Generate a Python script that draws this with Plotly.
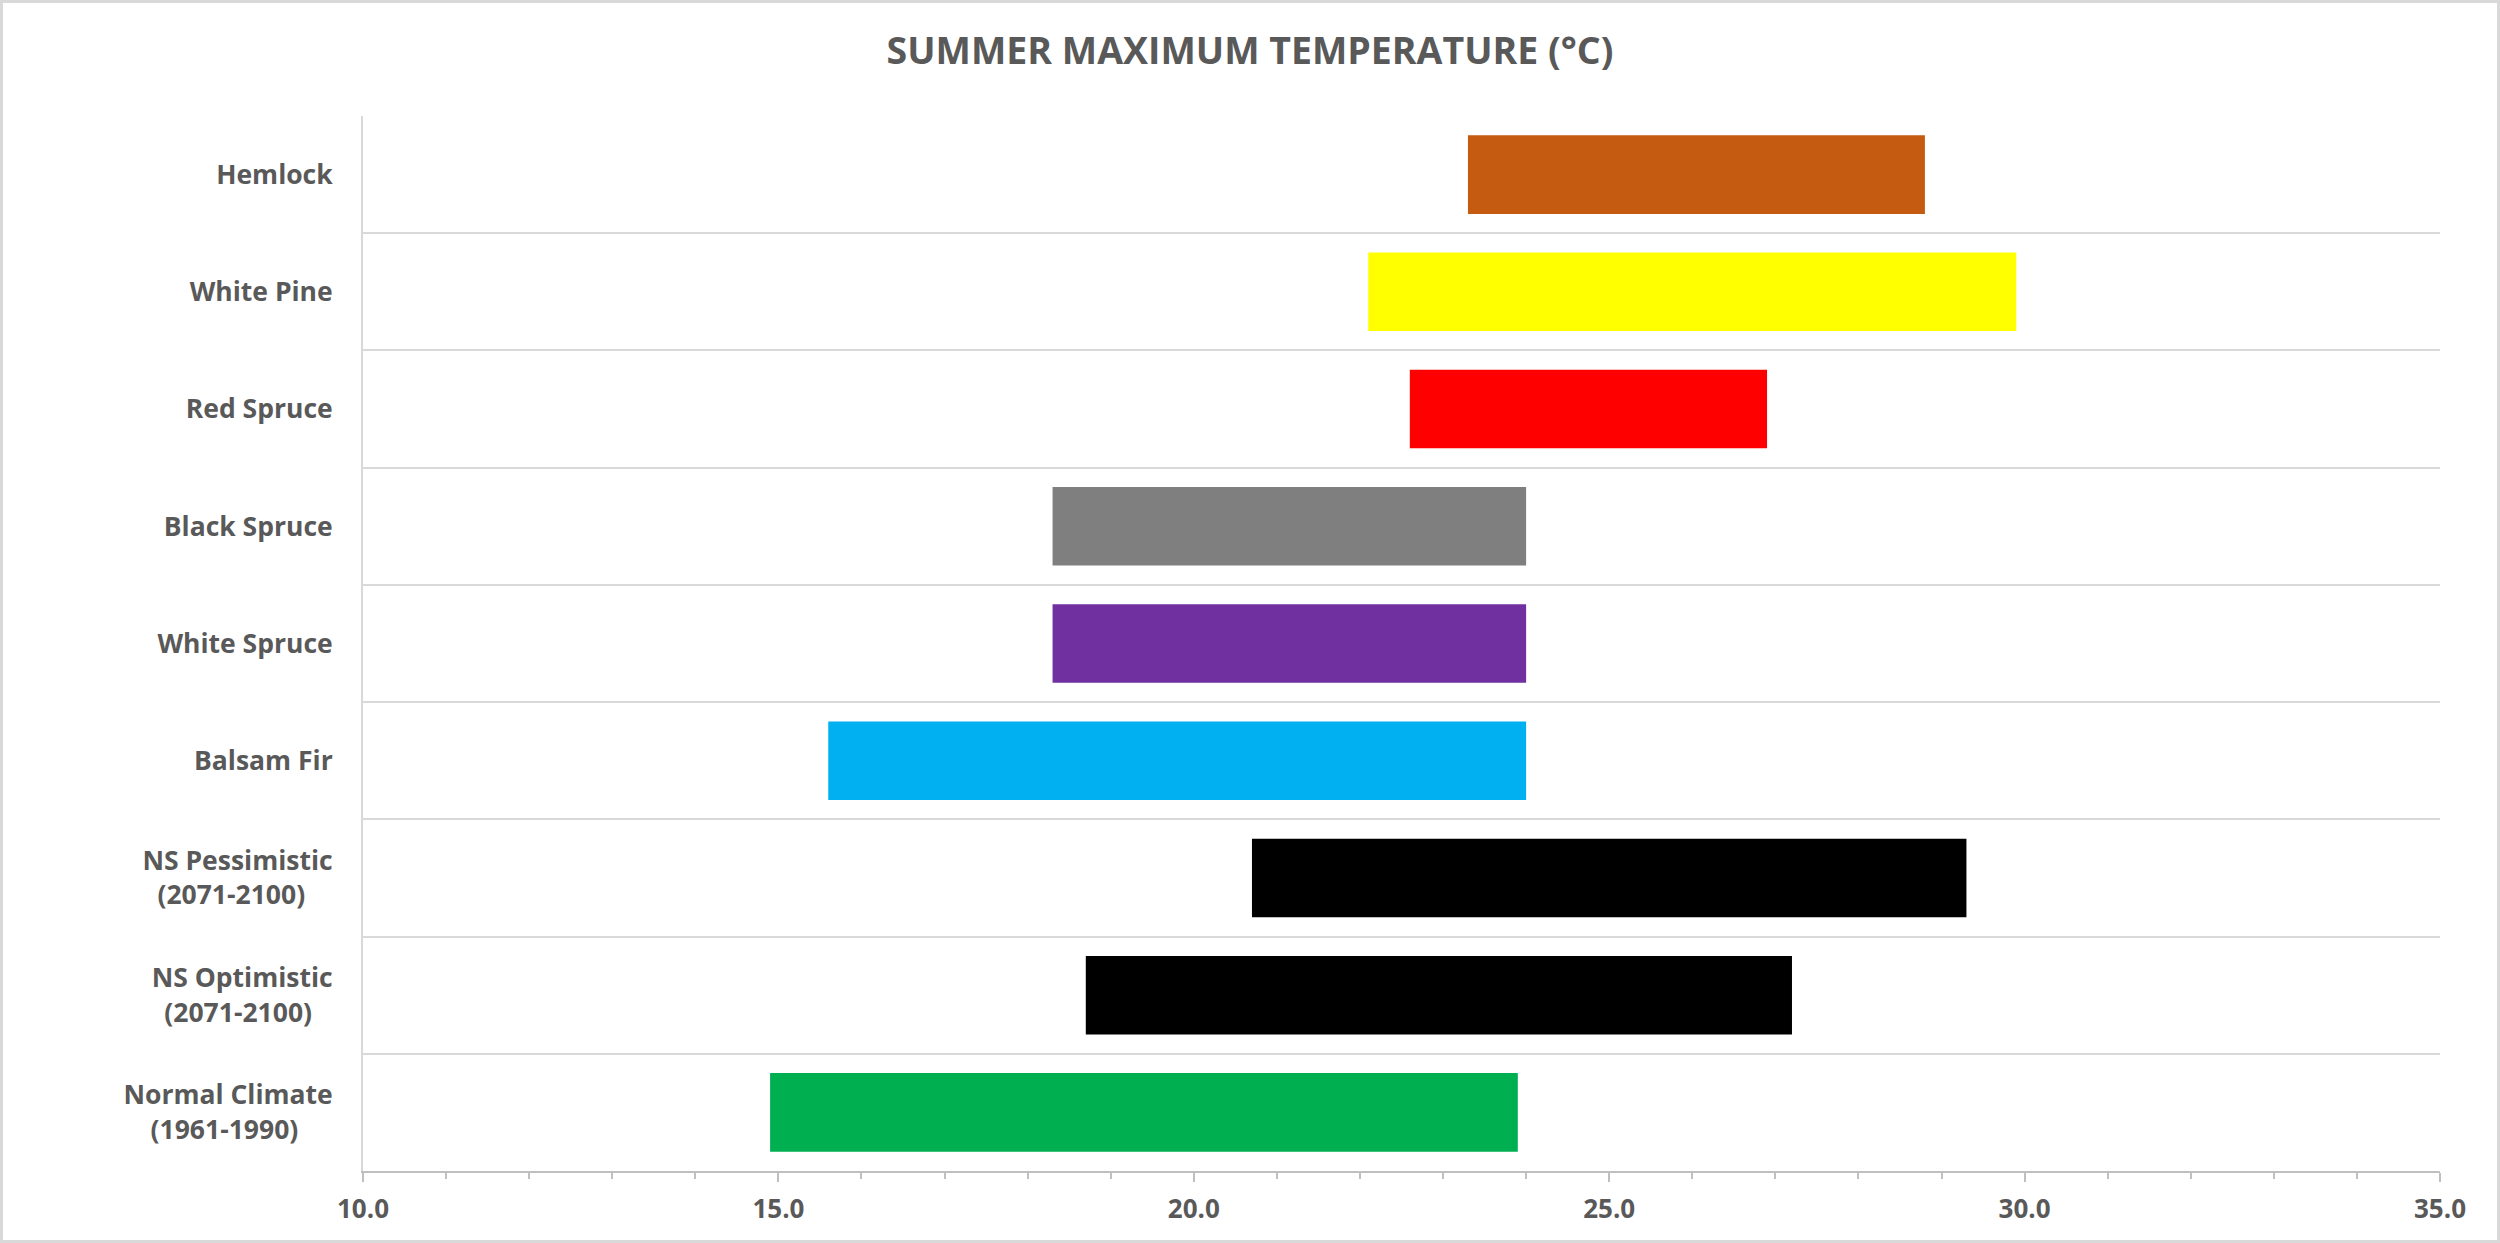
import plotly.graph_objects as go

# ---- data (top-to-bottom order as in the chart) ----
categories = [
    "Hemlock",
    "White Pine",
    "Red Spruce",
    "Black Spruce",
    "White Spruce",
    "Balsam Fir",
    "NS Pessimistic<br>(2071-2100)\u00a0\u00a0\u00a0\u00a0",
    "NS Optimistic<br>(2071-2100)\u00a0\u00a0\u00a0",
    "Normal Climate<br>(1961-1990)\u00a0\u00a0\u00a0\u00a0\u00a0",
]
low_values = [23.3, 22.1, 22.6, 18.3, 18.3, 15.6, 20.7, 18.7, 14.9]
high_values = [28.8, 29.9, 26.9, 24.0, 24.0, 24.0, 29.3, 27.2, 23.9]
bar_colors = ["#C55A11", "#FFFF00", "#FF0000", "#7F7F7F", "#7030A0",
              "#00B0F0", "#000000", "#000000", "#00B050"]
x_ticks = [10.0, 15.0, 20.0, 25.0, 30.0, 35.0]
title_text = "SUMMER MAXIMUM TEMPERATURE (°C)"

# ---- layout constants ----
W, H = 2500, 1243
ML, MR, MT, MB = 363, 60, 116, 72
PW, PH = W - ML - MR, H - MT - MB
TEXT = "#595959"
FONT = "Open Sans"

spans = [h - l for l, h in zip(low_values, high_values)]

fig = go.Figure()
fig.add_trace(go.Bar(
    y=categories,
    x=spans,
    base=low_values,
    orientation="h",
    marker=dict(color=bar_colors, line=dict(width=0)),
    hoverinfo="skip",
    showlegend=False,
))

x_common = dict(
    range=[x_ticks[0], x_ticks[-1]],
    tickvals=x_ticks,
    tickcolor="#BFBFBF",
    tickwidth=2,
    ticklen=9,
    minor=dict(dtick=1, tick0=10, ticklen=6, tickcolor="#BFBFBF", tickwidth=2, showgrid=False),
    showgrid=False,
    zeroline=False,
    automargin=False,
    fixedrange=True,
)

fig.update_layout(
    width=W,
    height=H,
    margin=dict(l=ML, r=MR, t=MT, b=MB, pad=0),
    paper_bgcolor="white",
    plot_bgcolor="white",
    bargap=0.33,
    title=dict(
        text=title_text,
        x=0.5, xref="container", xanchor="center",
        y=1 - 51 / H, yref="container", yanchor="middle",
        font=dict(family=FONT, size=37.5, color=TEXT, weight="bold"),
    ),
    xaxis=dict(
        **x_common,
        ticks="outside",
        tickformat=".1f",
        tickfont=dict(family=FONT, size=26, color=TEXT, weight="bold"),
        ticklabelstandoff=5,
        showline=True,
        linecolor="#BFBFBF",
        linewidth=2,
    ),
    xaxis2=dict(
        **x_common,
        overlaying="x",
        anchor="y",
        side="bottom",
        ticks="inside",
        showticklabels=False,
        showline=False,
    ),
    yaxis=dict(
        type="category",
        categoryorder="array",
        categoryarray=categories[::-1],
        tickson="boundaries",
        ticks="",
        showgrid=True,
        gridcolor="#D9D9D9",
        gridwidth=2,
        showline=True,
        linecolor="#D9D9D9",
        linewidth=2,
        tickfont=dict(family=FONT, size=26.5, color=TEXT, weight="bold"),
        ticklabelstandoff=23,
        automargin=False,
        fixedrange=True,
        zeroline=False,
    ),
    shapes=[dict(
        type="rect", xref="paper", yref="paper",
        x0=(1.5 - ML) / PW, x1=(W - 1.5 - ML) / PW,
        y0=-(MB - 1.5) / PH, y1=1 + (MT - 1.5) / PH,
        line=dict(color="#D9D9D9", width=3),
        fillcolor="rgba(0,0,0,0)",
        layer="above",
    )],
)

fig.write_html("out.html", config={"displayModeBar": False})
